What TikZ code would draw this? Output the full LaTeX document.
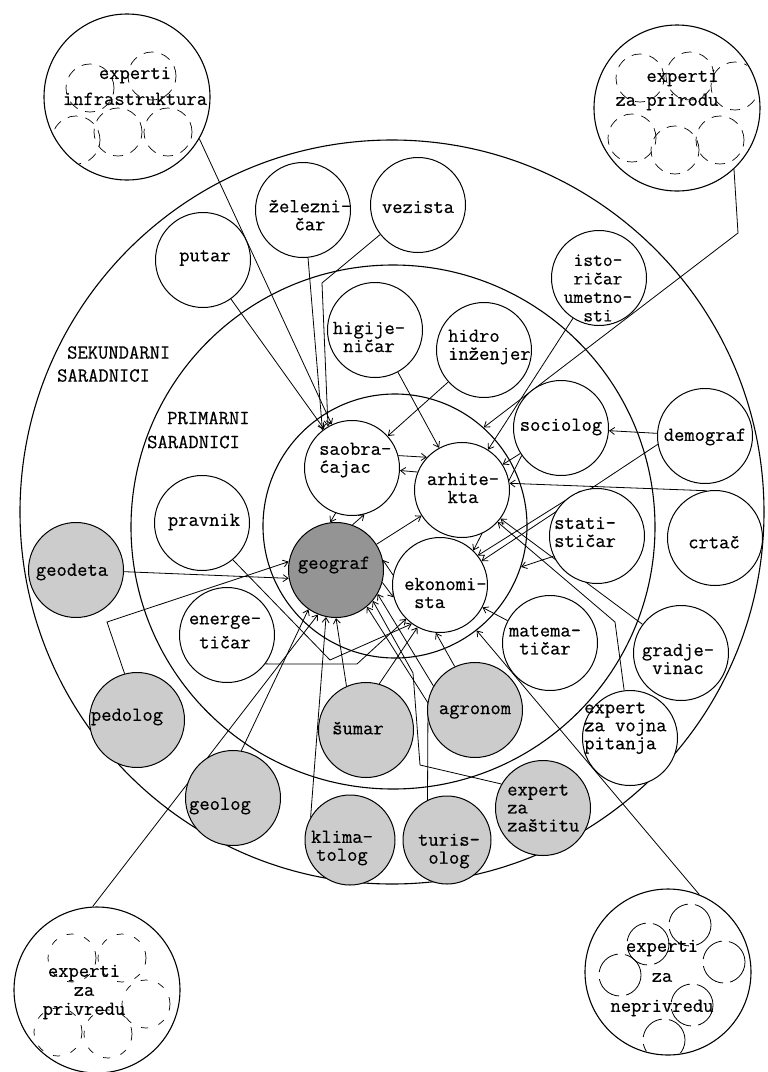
\documentclass[tikz,border=0pt]{standalone}
\usepackage{fontspec}
\setmonofont{Latin Modern Mono}[FakeBold=0.5]
\usetikzlibrary{arrows.meta}
\pgfdeclarelayer{rings}
\pgfdeclarelayer{lines}
\pgfsetlayers{rings,lines,main}
\tikzset{
  ring/.style={circle, draw, line width=1.1pt, inner sep=0pt},
  bub/.style={circle, draw, line width=1pt, minimum size=95pt, inner sep=0pt, fill=white},
  gbub/.style={bub, fill=black!20},
  dbub/.style={bub, fill=black!42},
  big/.style={circle, draw, line width=1.1pt, minimum size=166pt, inner sep=0pt},
  lab/.style={font=\fontsize{20}{18}\selectfont\ttfamily, align=center, inner sep=0pt},
  labl/.style={lab, align=left},
  arr/.style={line width=0.8pt, -{Straight Barb[length=5pt,width=7pt]}},
  sub/.style={line width=0.7pt, dash pattern=on 10pt off 8pt},
  subs/.style={line width=0.8pt, dash pattern=on 28pt off 7pt},
}
\begin{document}
\begin{tikzpicture}[x=1pt,y=-1pt]
\useasboundingbox (0,0) rectangle (768,1072);

\begin{pgfonlayer}{rings}
% main rings
\node[ring, minimum size=744pt] (outer) at (392,512) {};
\node[ring, minimum size=524pt] (middle) at (393,527) {};
\node[ring, minimum size=264pt] (inner) at (395,526) {};
% expert circles
\node[big] (infra) at (127,97) {};
\node[big] (priroda) at (677,108) {};
\node[big] (privreda) at (97,990) {};
\node[big] (neprivreda) at (668,972) {};
\begin{scope}
  \clip (127,97) circle[radius=82pt];
  \foreach \a/\b in {90/88,152/76,118/132,168/132,76/140}
    \draw[sub] (\a,\b) circle[radius=24pt];
\end{scope}
\begin{scope}
  \clip (677,108) circle[radius=82pt];
  \foreach \a/\b in {640/78,690/76,735/86,632/138,675/150,720/140}
    \draw[sub] (\a,\b) circle[radius=24pt];
\end{scope}
\begin{scope}
  \clip (97,990) circle[radius=82pt];
  \foreach \a/\b in {72/958,122/958,58/1032,108/1034,146/1004}
    \draw[sub, dash pattern=on 7pt off 11pt] (\a,\b) circle[radius=24pt];
\end{scope}
\begin{scope}
  \clip (668,972) circle[radius=82pt];
  \foreach \a/\b in {690/925,724/962,620/975,692/1005,664/1040,648/944}
    \draw[subs] (\a,\b) circle[radius=21pt];
\end{scope}
\end{pgfonlayer}

% ---------- bubbles ----------
\node[bub] (putar) at (203,260) {};
\node[bub] (zel) at (303,210) {};
\node[bub] (vez) at (418,205) {};
\node[bub] (higij) at (375,330) {};
\node[bub] (hidro) at (484,350) {};
\node[bub] (istor) at (599,278) {};
\node[bub] (sociolog) at (561,428) {};
\node[bub] (demograf) at (705,436) {};
\node[bub] (saob) at (352,468) {};
\node[bub] (arh) at (462,490) {};
\node[bub] (statist) at (597,536) {};
\node[bub] (crtac) at (715,538) {};
\node[bub] (pravnik) at (202,523) {};
\node[dbub] (geograf) at (336,570) {};
\node[bub] (ekon) at (440,585) {};
\node[gbub] (geodeta) at (76,570) {};
\node[bub] (energ) at (227,635) {};
\node[bub] (matem) at (550,643) {};
\node[bub] (gradj) at (681,653) {};
\node[gbub] (pedolog) at (137,720) {};
\node[gbub] (sumar) at (366,730) {};
\node[gbub] (agronom) at (475,710) {};
\node[bub] (vojna) at (630,738) {};
\node[gbub] (zastitu) at (543,808) {};
\node[gbub] (geolog) at (233,798) {};
\node[gbub, minimum size=90pt] (klima) at (350,840) {};
\node[gbub, minimum size=88pt] (turis) at (447,840) {};

% ---------- connectors ----------
\begin{pgfonlayer}{lines}
\draw[arr] (infra.-30) -- (saob.115);
\draw[arr] (priroda.-47) -- (738,233) -- (inner.48);
\draw[arr] (putar) -- (saob);
\draw[arr] (zel.-84) -- (saob.128);
\draw[arr] (vez.-142) -- (322,283) -- (saob.120);
\draw[arr] (hidro) -- (saob);
\draw[arr] (higij) -- (arh);
\draw[arr] (istor) -- (arh);
\draw[arr] (demograf) -- (sociolog);
\draw[arr] (demograf.190) -- (ekon.30);
\draw[arr] (crtac.100) -- (arh.8);
\draw[arr] (statist.110) -- (ekon.38);
\draw[arr] (sociolog.215) -- (ekon.46);
\draw[arr] (sociolog) -- (arh);
\draw[arr] (statist.205) -- (inner.-18);
\draw[arr] (matem) -- (ekon);
\draw[arr] (gradj) -- (arh);
\draw[arr] (vojna.97) -- (615,622) -- (arh.-42);
\draw[arr] (neprivreda.68) -- (inner.-52);
\draw[arr] (saob.15) -- (arh.137);
\draw[arr] (arh.158) -- (saob.-3);
\draw[arr] (saob.-110) -- (geograf.97);
\draw[arr] (geograf.70) -- (saob.-75);
\draw[arr] (geograf) -- (arh);
\draw[arr] (geograf.-15) -- (ekon.195);
\draw[arr] (ekon.168) -- (geograf.12);
\draw[arr] (geodeta.-2) -- (geograf.190);
\draw[arr] (pedolog.105) -- (107,622) -- (geograf.170);
\draw[arr] (energ.-37) -- (357,664) -- (ekon.-135);
\draw[arr] (pravnik.-50) -- (330,660) -- (ekon.-126);
\draw[arr] (geolog.80) -- (geograf.-125);
\draw[arr] (privreda.93) -- (geograf.-112);
\draw[arr] (klima.150) -- (geograf.-102);
\draw[arr] (sumar.114) -- (geograf.-90);
\draw[arr] (sumar.74) -- (ekon.-118);
\draw[arr] (turis.116) -- (428,703) -- (geograf.-50);
\draw[arr] (agronom.115) -- (ekon.-95);
\draw[arr] (agronom.150) -- (geograf.-30);
\draw[arr] (zastitu.150) -- (420,765) -- (413,673) -- (geograf.-40);
\end{pgfonlayer}

% ---------- texts ----------
\node[lab, font=\fontsize{20}{26}\selectfont\ttfamily] (infra-t) at (135,86) {experti\\infrastruktura};
\node[lab, align=right, font=\fontsize{20}{24}\selectfont\ttfamily] (priroda-t) at (667,90) {experti\\za prirodu};
\node[lab, font=\fontsize{20}{19}\selectfont\ttfamily] (privreda-t) at (84,992) {experti\\za\\privredu};
\node[lab, font=\fontsize{20}{30}\selectfont\ttfamily] (neprivreda-t) at (662,978) {experti\\za\\neprivredu};

\node[labl, anchor=west, font=\fontsize{20}{23}\selectfont\ttfamily] (sek-t) at (57,364) {\hspace*{10pt}SEKUNDARNI\\SARADNICI};
\node[labl, anchor=west, font=\fontsize{20}{24}\selectfont\ttfamily] (prim-t) at (147,430) {\hspace*{20pt}PRIMARNI\\SARADNICI};

\node[lab] (putar-t) at (205,258) {putar};
\node[lab] (zel-t) at (310,215) {železni-\\čar};
\node[lab] (vez-t) at (418,207) {vezista};
\node[lab] (higij-t) at (369,337) {higije-\\ničar};
\node[labl, anchor=west] (hidro-t) at (448,347) {hidro\\inženjer};
\node[lab, font=\fontsize{19}{18.5}\selectfont\ttfamily] (istor-t) at (598,288) {isto-\\ričar\\umetno-\\sti};
\node[lab] (sociolog-t) at (561,427) {sociolog};
\node[lab] (demograf-t) at (705,437) {demograf};
\node[labl, anchor=west] (saob-t) at (319,460) {saobra-\\ćajac};
\node[lab] (arh-t) at (463,488) {arhite-\\kta};
\node[labl, anchor=west] (statist-t) at (554,532) {stati-\\stičar};
\node[lab] (crtac-t) at (714,542) {crtač};
\node[lab] (pravnik-t) at (204,522) {pravnik};
\node[lab] (geograf-t) at (334,565) {geograf};
\node[labl, anchor=west] (ekon-t) at (404,593) {ekonomi-\\\hspace*{10pt}sta};
\node[lab] (geodeta-t) at (72,572) {geodeta};
\node[lab, font=\fontsize{20}{24}\selectfont\ttfamily] (energ-t) at (225,632) {energe-\\tičar};
\node[lab] (matem-t) at (545,640) {matema-\\tičar};
\node[lab] (gradj-t) at (678,659) {gradje-\\vinac};
\node[labl, anchor=west] (vojna-t) at (584,728) {expert\\za vojna\\pitanja};
\node[lab] (pedolog-t) at (127,717) {pedolog};
\node[lab] (sumar-t) at (358,728) {šumar};
\node[lab] (agronom-t) at (475,712) {agronom};
\node[labl, anchor=west] (zastitu-t) at (507,808) {expert\\za\\zaštitu};
\node[lab] (geolog-t) at (220,806) {geolog};
\node[lab] (klima-t) at (342,848) {klima-\\tolog};
\node[lab] (turis-t) at (449,851) {turis-\\olog};
\end{tikzpicture}
\end{document}
